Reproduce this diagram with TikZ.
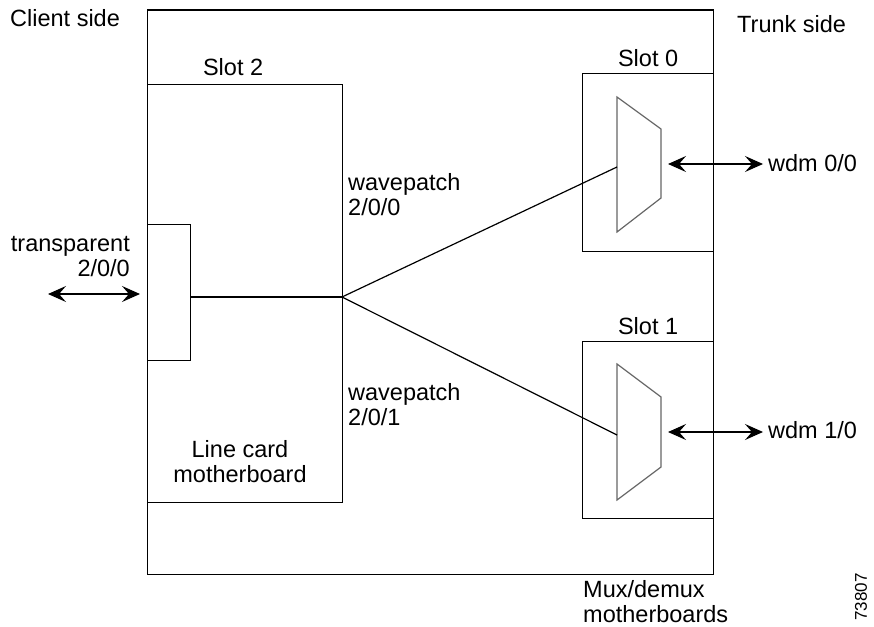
\documentclass[tikz,border=0pt]{standalone}
\usepackage{fontspec}
\setmainfont{Liberation Sans}
\usetikzlibrary{arrows.meta,positioning}

\begin{document}
\begin{tikzpicture}[
  x=1pt, y=-1pt,
  box/.style={draw, line width=1.2pt, inner sep=0pt, anchor=north west},
  lbl/.style={inner sep=0pt, font=\fontsize{23.5}{24.5}\selectfont},
  mux/.style={draw=black!60, line width=1.2pt},
  wire/.style={line width=1.2pt},
  dblarrow/.style={{Stealth[length=18pt,width=16pt,inset=7pt]}-{Stealth[length=18pt,width=16pt,inset=7pt]}, line width=1.2pt},
]
\useasboundingbox (0,0) rectangle (874,626);

% chassis and slots
\node[box, minimum width=566pt, minimum height=564.5pt] (chassis) at (147,9.5) {};
\node[box, minimum width=195pt, minimum height=418.5pt] (slot2) at (147,83.5) {};
\node[box, minimum width=43pt, minimum height=136pt] (tport) at (147,224) {};
\node[box, minimum width=131pt, minimum height=178pt] (slot0) at (582,73) {};
\node[box, minimum width=131pt, minimum height=177pt] (slot1) at (582,341) {};

% mux/demux units
\draw[mux] (617,97) -- (661,129) -- (661,198) -- (617,232) -- cycle;
\draw[mux] (617,364) -- (661,397) -- (661,467) -- (617,500) -- cycle;
\coordinate (mux0in) at (617,167);
\coordinate (mux0out) at (668,164);
\coordinate (mux1in) at (617,435);
\coordinate (mux1out) at (668,432);

% labels (base of a multi-line node is its last line)
\node[lbl, anchor=base west] (client) at (10,27) {Client side};
\node[lbl, anchor=base west] (trunk) at (737,33) {Trunk side};
\node[lbl, above=8pt of slot2, xshift=-12pt] (slot2lbl) {Slot 2};
\node[lbl, above=6pt of slot0] (slot0lbl) {Slot 0};
\node[lbl, above=6pt of slot1] (slot1lbl) {Slot 1};
\node[lbl, anchor=base west, align=left] (wp0) at (348,215) {wavepatch\\2/0/0};
\node[lbl, anchor=base west, align=left] (wp1) at (348,425) {wavepatch\\2/0/1};
\node[lbl, anchor=base east, align=right] (tplbl) at (130,276) {transparent\\2/0/0};
\node[lbl, anchor=base, align=center] (lcm) at (240,482) {Line card\\motherboard};
\node[lbl, anchor=base west, align=left] (mdm) at (583,622) {Mux/demux\\motherboards};
\node[lbl, anchor=base west] (wdm0) at (768,171) {wdm 0/0};
\node[lbl, anchor=base west] (wdm1) at (768,438) {wdm 1/0};
\node[inner sep=0pt, rotate=90, font=\fontsize{17}{17}\selectfont] (fignum) at (861,597) {73807};

% wavepatch connections
\coordinate (wp) at (342,297);
\draw[wire] (tport.east |- wp) -- (wp);
\draw[wire] (wp) -- (mux0in);
\draw[wire] (wp) -- (mux1in);

% client and trunk ports
\coordinate (cl) at (48,294);
\draw[dblarrow, shorten >=7pt] (cl) -- (cl -| tport.west);
\draw[dblarrow, shorten >=5pt] (mux0out) -- (mux0out -| wdm0.west);
\draw[dblarrow, shorten >=5pt] (mux1out) -- (mux1out -| wdm1.west);

\end{tikzpicture}
\end{document}
